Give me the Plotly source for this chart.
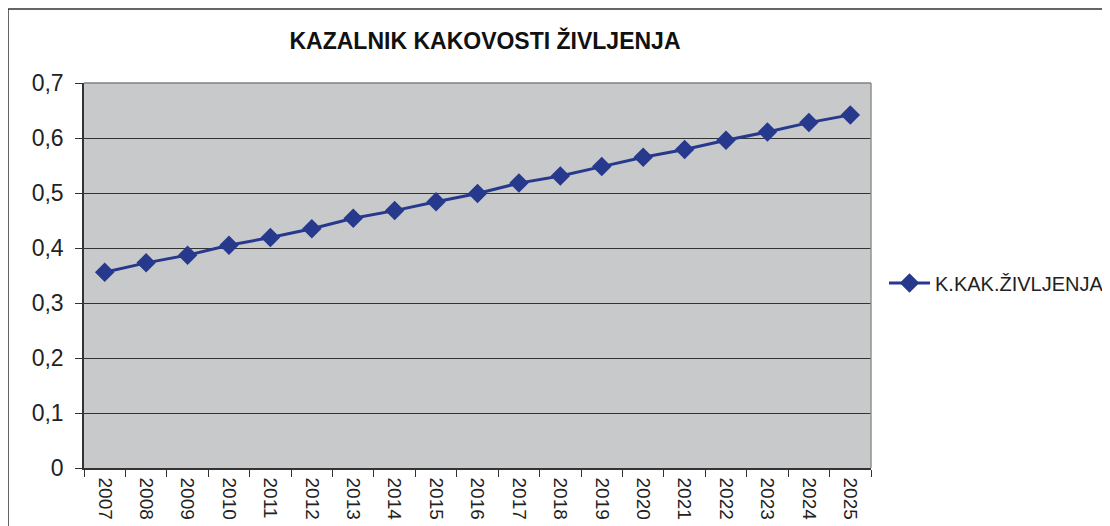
import plotly.graph_objects as go

years = ["2007", "2008", "2009", "2010", "2011", "2012", "2013", "2014", "2015", "2016",
         "2017", "2018", "2019", "2020", "2021", "2022", "2023", "2024", "2025"]
values = [0.356, 0.373, 0.387, 0.405, 0.419, 0.435, 0.454, 0.468, 0.484, 0.499,
          0.518, 0.531, 0.548, 0.565, 0.579, 0.596, 0.611, 0.628, 0.642]
y_tick_vals = [0, 0.1, 0.2, 0.3, 0.4, 0.5, 0.6, 0.7]
y_tick_text = ["0", "0,1", "0,2", "0,3", "0,4", "0,5", "0,6", "0,7"]
series_name = "K.KAK.ŽIVLJENJA"
title_text = "KAZALNIK KAKOVOSTI ŽIVLJENJA"

FONT = "Liberation Sans, Arial, sans-serif"
LINE_COLOR = "#27398C"

fig = go.Figure()
fig.add_trace(go.Scatter(
    x=years, y=values, mode="lines+markers", name=series_name,
    line=dict(color=LINE_COLOR, width=3),
    marker=dict(symbol="diamond", size=15, color=LINE_COLOR),
))

# page body has an 8px margin, so work in page pixels minus 8
OFF = 8
W, H = 1110 - OFF, 526 - OFF
L, R, T, B = 84 - OFF, 871 - OFF, 83 - OFF, 468 - OFF
pw, ph = R - L, B - T

fig.update_layout(
    width=W, height=H,
    margin=dict(l=L, r=W - R, t=T, b=H - B, pad=0, autoexpand=False),
    paper_bgcolor="white",
    plot_bgcolor="#C8C9CB",
    font=dict(family=FONT, color="#222222"),
    showlegend=True,
    legend=dict(x=(884 - OFF - L) / pw, xanchor="left", y=(B - (283 - OFF)) / ph, yanchor="middle",
                font=dict(size=20, family=FONT, color="#222222"),
                bgcolor="rgba(0,0,0,0)", itemwidth=41),
    title=dict(text="<b>" + title_text + "</b>", x=(485 - OFF - L) / pw, xref="paper",
               xanchor="center", y=1 - (41 - OFF) / H, yref="container", yanchor="middle",
               font=dict(size=23, family=FONT, color="#111111")),
    xaxis=dict(
        type="category", tickson="boundaries", ticks="outside", ticklen=7,
        tickcolor="#333333", tickwidth=1, showline=True, linecolor="#333333", linewidth=1.5,
        showgrid=False, tickangle=90, tickfont=dict(size=19, family=FONT, color="#222222"),
        ticklabelstandoff=4, range=[-0.5, len(years) - 0.5], zeroline=False, automargin=False,
    ),
    yaxis=dict(
        range=[0, 0.7], tickvals=y_tick_vals, ticktext=y_tick_text, ticks="outside",
        ticklen=7, tickcolor="#333333", showline=True, linecolor="#333333", linewidth=1.5,
        showgrid=True, gridcolor="#333333", gridwidth=1, zeroline=False, automargin=False,
        tickfont=dict(size=23, family=FONT, color="#222222"), ticklabelstandoff=7,
    ),
    shapes=[
        # outer chart border (extends past canvas right/bottom)
        dict(type="rect", xref="paper", yref="paper",
             x0=(8 - OFF - L) / pw, x1=(1200 - L) / pw, y0=(B - 600) / ph, y1=(B - (9 - OFF)) / ph,
             line=dict(color="#333333", width=1.5), layer="below"),
        # lighter top border and right border of the plot area
        dict(type="line", xref="paper", yref="paper", x0=0, x1=1, y0=1, y1=1,
             line=dict(color="#808080", width=1.5)),
        dict(type="line", xref="paper", yref="paper", x0=1, x1=1, y0=0, y1=1,
             line=dict(color="#909090", width=1.5)),
    ],
)

fig.write_html("out.html")
